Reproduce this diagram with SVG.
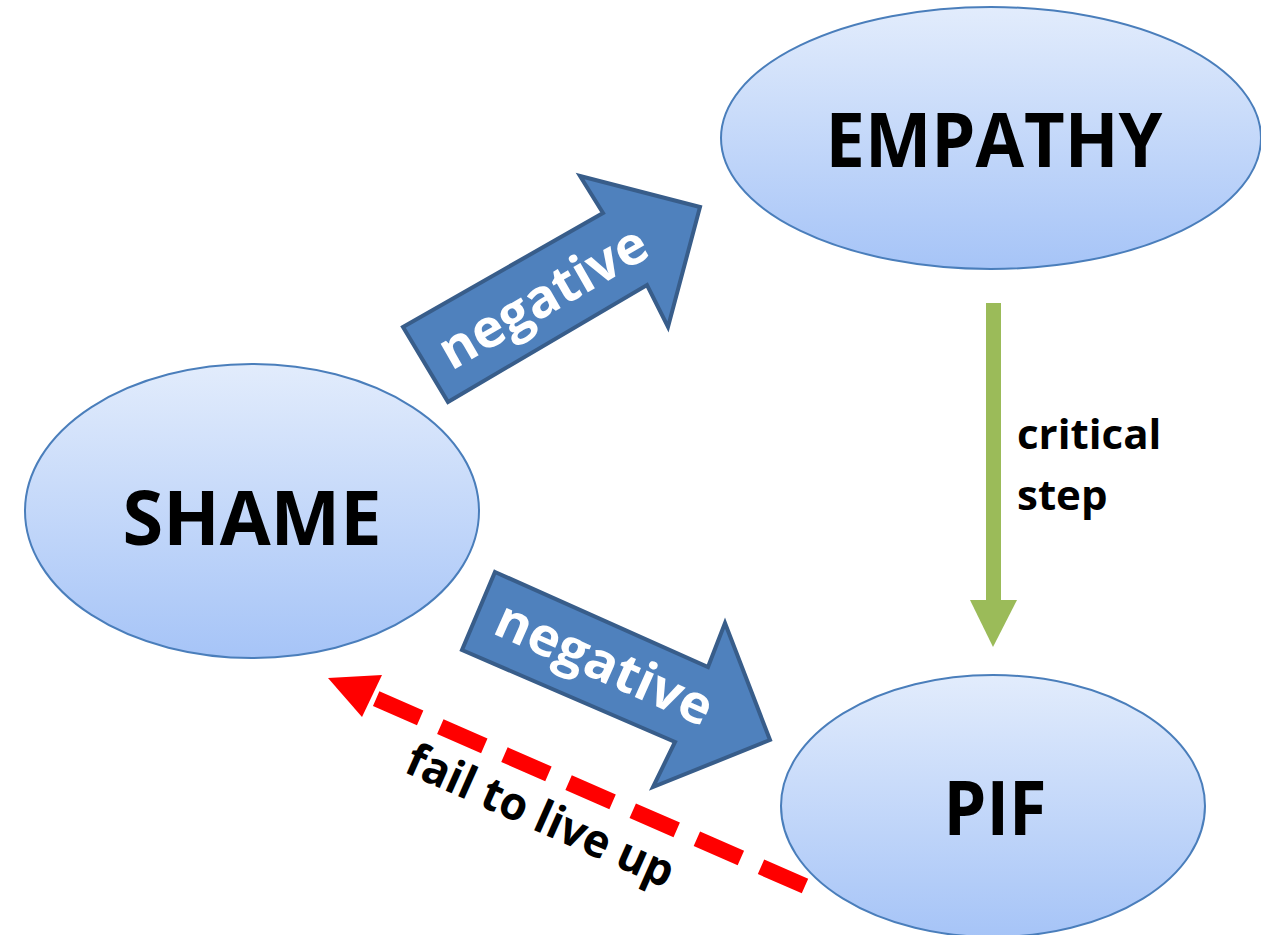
<svg xmlns="http://www.w3.org/2000/svg" width="1261" height="935" viewBox="0 0 1261 935">
<style>
.node{stroke:#4a7ebb;stroke-width:2;fill:url(#g)}
.lbl{font-family:"Open Sans","Noto Sans","Liberation Sans",sans-serif;font-weight:bold;fill:#000;text-anchor:middle}
.blk{fill:#4f81bd;stroke:#385d8a;stroke-width:4;stroke-linejoin:miter}
.wt{font-family:"Open Sans","Noto Sans","Liberation Sans",sans-serif;font-weight:bold;fill:#fff;text-anchor:middle;font-size:53px}
</style>
<defs>
<linearGradient id="g" x1="0" y1="0" x2="0" y2="1">
<stop offset="0" stop-color="#e2ecfc"/>
<stop offset="1" stop-color="#a6c4f7"/>
</linearGradient>
</defs>
<rect width="1261" height="935" fill="#fff"/>
<g id="node-empathy">
<ellipse class="node" cx="991" cy="138" rx="270" ry="131"/>
<text class="lbl" x="994" y="167" font-size="76" textLength="337" lengthAdjust="spacingAndGlyphs">EMPATHY</text>
</g>
<g id="node-shame">
<ellipse class="node" cx="252" cy="511" rx="227" ry="147"/>
<text class="lbl" x="252" y="545" font-size="76" textLength="259" lengthAdjust="spacingAndGlyphs">SHAME</text>
</g>
<g id="node-pif">
<ellipse class="node" cx="993" cy="806" rx="212" ry="131"/>
<text class="lbl" x="995" y="835" font-size="76" textLength="103" lengthAdjust="spacingAndGlyphs">PIF</text>
</g>
<g id="connectors">
<g id="edge-shame-empathy">
<polygon class="blk" points="403,327 603,213 580,176 700,207 668,327 647,285 448,402"/>
<text class="wt" transform="translate(552,313) rotate(-30)" textLength="232" lengthAdjust="spacingAndGlyphs">negative</text>
</g>
<g id="edge-shame-pif">
<polygon class="blk" points="495,572 708,667 725,623 770,740 653,787 675,742 462,650"/>
<text class="wt" transform="translate(597,680) rotate(24)" textLength="232" lengthAdjust="spacingAndGlyphs">negative</text>
</g>
<g id="edge-empathy-pif">
<rect x="986" y="303" width="15" height="298" fill="#9bbb59"/>
<polygon points="970,600 1017,600 993,647" fill="#9bbb59"/>
<text class="lbl" x="1017" y="449" font-size="42" style="text-anchor:start">critical</text>
<text class="lbl" x="1017" y="510" font-size="42" style="text-anchor:start">step</text>
</g>
<g id="edge-pif-shame">
<line x1="805" y1="886" x2="368" y2="695" stroke="#ff0000" stroke-width="16" stroke-dasharray="48,22"/>
<polygon points="328,678 382,675 362,717" fill="#ff0000"/>
<text class="lbl" transform="translate(534,830) rotate(24)" font-size="46" textLength="288" lengthAdjust="spacingAndGlyphs">fail to live up</text>
</g>
</g>
</svg>
